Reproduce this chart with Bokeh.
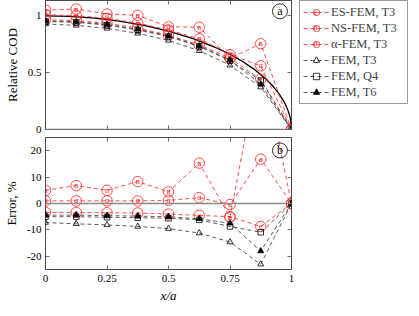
from bokeh.plotting import figure
from bokeh.models import Range1d, FixedTicker, LinearAxis, Span, Legend, LegendItem, ColumnDataSource
from bokeh.layouts import column, row
from bokeh.embed import file_html
from bokeh.resources import INLINE
from bokeh.core.properties import value

# ---------------- data ----------------
x_pos = [0, 0.125, 0.25, 0.375, 0.5, 0.625, 0.75, 0.875, 1]

# relative crack opening displacement (top panel)
cod_es = [0.966, 0.958, 0.934, 0.894, 0.831, 0.745, 0.628, 0.442, 0]
cod_ns = [1.050, 1.060, 1.016, 1.004, 0.904, 0.900, 0.627, 0.755, 0]
cod_alpha = [1.010, 1.002, 0.978, 0.936, 0.876, 0.798, 0.659, 0.560, 0]
cod_t3 = [0.928, 0.916, 0.890, 0.846, 0.784, 0.693, 0.565, 0.373, 0]
cod_q4 = [0.950, 0.943, 0.918, 0.877, 0.818, 0.732, 0.604, 0.431, 0]
cod_t6 = [0.956, 0.949, 0.924, 0.883, 0.823, 0.735, 0.612, 0.397, 0]

# exact solution curve (top panel)
exact_x = [0, 0.1, 0.2, 0.3, 0.4, 0.5, 0.6, 0.7, 0.75, 0.8, 0.85, 0.9, 0.925, 0.95, 0.97, 0.98, 0.99, 0.995, 1]
exact_y = [1, 0.995, 0.980, 0.954, 0.917, 0.866, 0.800, 0.714, 0.661, 0.600, 0.527, 0.436, 0.380, 0.312, 0.243, 0.199, 0.141, 0.100, 0]

# error, % (bottom panel)
err_es = [-3.4, -3.4, -3.5, -3.6, -4.0, -4.5, -5.0, -8.7, 0]
err_ns = [5.0, 6.8, 5.0, 8.3, 4.4, 15.3, -5.2, 56.0, 0]
err_alpha = [1.0, 1.0, 1.0, 1.0, 1.2, 2.2, -0.4, 16.8, 0]
err_t3 = [-7.2, -7.7, -8.1, -8.7, -9.5, -11.2, -14.6, -23.0, 0]
err_q4 = [-5.0, -5.0, -5.2, -5.4, -5.6, -6.2, -8.7, -10.9, 0]
err_t6 = [-4.4, -4.4, -4.6, -4.8, -5.0, -5.8, -7.5, -18.0, 0]

series_labels = ["ES-FEM, T3", "NS-FEM, T3", "α-FEM, T3", "FEM, T3", "FEM, Q4", "FEM, T6"]
series_marks = ["e", "n", "α", None, None, None]

x_ticks = [0, 0.25, 0.5, 0.75, 1]
x_tick_labels = ["0", "0.25", "0.5", "0.75", "1"]
cod_ticks = [0, 0.5, 1]
cod_tick_labels = ["0", "0.5", "1"]
err_ticks = [-20, -10, 0, 10, 20]
err_tick_labels = ["-20", "-10", "0", "10", "20"]

tag_x = 0.953
tag_top_y = 1.04
tag_bot_y = 20.1

# ---------------- style ----------------
RED = "#ff2020"
FRAME = "#4a4a4a"
SERIF = "Liberation Serif"

marker_style = [
    dict(marker="circle", size=10.5, line_color=RED, fill_alpha=0, line_width=0.8),
    dict(marker="circle", size=10.5, line_color=RED, fill_alpha=0, line_width=0.8),
    dict(marker="circle", size=10.5, line_color=RED, fill_alpha=0, line_width=0.8),
    dict(marker="triangle", size=6, line_color="black", fill_alpha=0, line_width=0.8),
    dict(marker="square", size=5.5, line_color="black", fill_alpha=0, line_width=0.8),
    dict(marker="triangle", size=6, line_color="black", fill_color="black", line_width=0.8),
]
line_colors = [RED, RED, RED, "#333333", "#333333", "#333333"]
LINE_DASH = "4 3"
MARK_FONT = "8px"


def tick_style(ax):
    ax.axis_line_color = None
    ax.major_tick_in = 4
    ax.major_tick_out = 0
    ax.major_tick_line_color = FRAME
    ax.major_tick_line_width = 0.8
    ax.minor_tick_line_color = None


def style_fig(p, yticks, ylabels, ylabel, show_x_labels):
    p.grid.visible = False
    p.outline_line_color = FRAME
    p.outline_line_width = 1
    p.background_fill_color = "white"
    p.border_fill_color = "white"
    p.min_border_top = 0

    xa = p.xaxis[0]
    xa.ticker = FixedTicker(ticks=x_ticks)
    ya = p.yaxis[0]
    ya.ticker = FixedTicker(ticks=yticks)
    ya.major_label_overrides = {t: s for t, s in zip(yticks, ylabels)}
    ya.axis_label = ylabel

    for ax in (xa, ya):
        tick_style(ax)
        ax.major_label_text_font = SERIF
        ax.major_label_text_font_size = "11px"
        ax.major_label_text_color = "black"
        ax.axis_label_text_font = SERIF
        ax.axis_label_text_font_size = "13px"
        ax.axis_label_text_font_style = "normal"
        ax.axis_label_text_color = "black"
    ya.major_label_standoff = 4
    ya.axis_label_standoff = 5
    if show_x_labels:
        xa.major_label_overrides = {t: s for t, s in zip(x_ticks, x_tick_labels)}
        xa.major_label_standoff = 5
        xa.axis_label = "x/a"
        xa.axis_label_text_font_style = "italic"
        xa.axis_label_standoff = 3
    else:
        xa.major_label_overrides = {t: "" for t in x_ticks}
        xa.major_label_standoff = 0

    # mirrored ticks on right and top
    for loc, ticks in (("right", yticks), ("above", x_ticks)):
        ax = LinearAxis(ticker=FixedTicker(ticks=ticks))
        tick_style(ax)
        ax.major_label_overrides = {t: "" for t in ticks}
        ax.major_label_standoff = 0
        p.add_layout(ax, loc)

    p.add_layout(Span(location=0, dimension="width", line_color="#8a8a8a", line_width=1.6))


def draw_series(p, ys_all, with_marks=True):
    renderers = []
    for i, ys in enumerate(ys_all):
        src = ColumnDataSource(dict(x=x_pos, y=ys, t=[series_marks[i] or ""] * len(x_pos)))
        ln = p.line("x", "y", source=src, line_color=line_colors[i], line_width=0.8, line_dash=LINE_DASH)
        sc = p.scatter("x", "y", source=src, **marker_style[i])
        if series_marks[i] and with_marks:
            p.text("x", "y", text="t", source=src, text_font=value(SERIF), text_font_size=MARK_FONT,
                   text_align="center", text_baseline="middle", text_color=RED)
        renderers.append((ln, sc))
    return renderers


def add_tag(p, x, y, letter):
    p.scatter([x], [y], marker="circle", size=15, fill_alpha=0, line_color="black", line_width=0.8)
    p.text([x], [y], text=[letter], text_font=value(SERIF), text_font_size="12px",
           text_align="center", text_baseline="middle", text_color="black")


# ---------------- top panel ----------------
top = figure(width=299, height=137, output_backend="svg", toolbar_location=None,
             x_range=Range1d(0, 1), y_range=Range1d(0, 1.135))
top.min_border_left = 38
top.min_border_right = 8
top.min_border_bottom = 8
style_fig(top, cod_ticks, cod_tick_labels, "Relative COD", False)
top.line(exact_x, exact_y, line_color="black", line_width=1.3)
draw_series(top, [cod_es, cod_ns, cod_alpha, cod_t3, cod_q4, cod_t6])
add_tag(top, tag_x, tag_top_y, "a")

# ---------------- bottom panel ----------------
bot = figure(width=299, height=170, output_backend="svg", toolbar_location=None,
             x_range=Range1d(0, 1), y_range=Range1d(-25, 25))
bot.min_border_left = 38
bot.min_border_right = 8
bot.min_border_bottom = 38
style_fig(bot, err_ticks, err_tick_labels, "Error, %", True)
draw_series(bot, [err_es, err_ns, err_alpha, err_t3, err_q4, err_t6])
add_tag(bot, tag_x, tag_bot_y, "b")

# ---------------- legend (own panel; the series lie outside its view) ----------------
LEG_W, LEG_H = 112, 106
PAD, ROW, SPACING, GLYPH_W, MARGIN = 3, 16, 0, 26, 0
OFF = -1000  # view window in pixel-like units, far from the data
leg = figure(width=LEG_W, height=LEG_H, output_backend="svg", toolbar_location=None,
             x_range=Range1d(OFF, OFF + LEG_W), y_range=Range1d(OFF + LEG_H, OFF), min_border=0)
leg.axis.visible = False
leg.grid.visible = False
leg.outline_line_color = None
leg_renderers = draw_series(leg, [cod_es, cod_ns, cod_alpha, cod_t3, cod_q4, cod_t6], with_marks=False)
items = [LegendItem(label=lab, renderers=list(r)) for lab, r in zip(series_labels, leg_renderers)]
legend = Legend(items=items, location="top_left")
legend.margin = MARGIN
legend.padding = PAD
legend.spacing = SPACING
legend.glyph_width = GLYPH_W
legend.glyph_height = ROW
legend.label_height = ROW
legend.label_width = 73
legend.label_standoff = 2
legend.label_text_font = SERIF
legend.label_text_font_size = "12.5px"
legend.border_line_color = "#333333"
legend.border_line_width = 1
legend.background_fill_alpha = 0
leg.add_layout(legend)

# letters inside the legend's circle samples
mark_rows = [i for i, mk in enumerate(series_marks) if mk]
leg.text(x=[OFF + MARGIN + PAD + GLYPH_W / 2] * len(mark_rows),
         y=[OFF + MARGIN + PAD + ROW / 2 + i * (ROW + SPACING) for i in mark_rows],
         text=[series_marks[i] for i in mark_rows], level="overlay",
         text_font=value(SERIF), text_font_size=MARK_FONT, text_color=RED,
         text_align="center", text_baseline="middle")

p = row(column(top, bot), leg)
open("out.html", "w").write(file_html(p, INLINE))
